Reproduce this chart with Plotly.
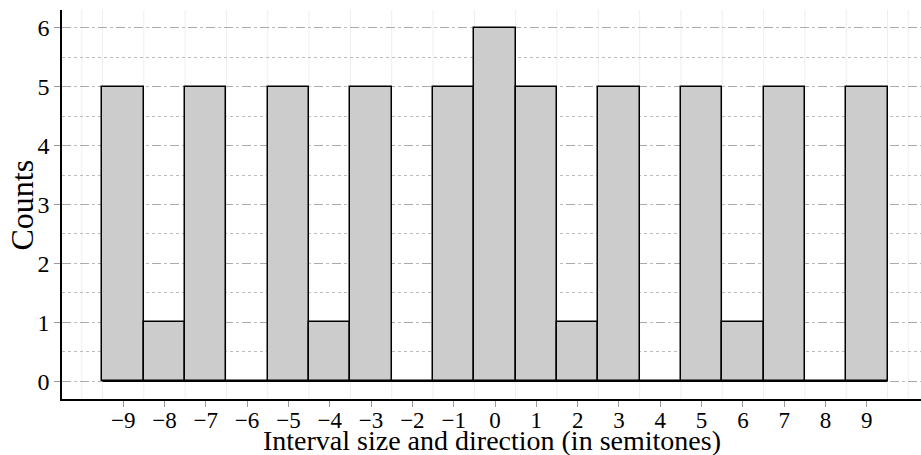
import plotly.graph_objects as go

intervals = [-9, -8, -7, -6, -5, -4, -3, -2, -1, 0, 1, 2, 3, 4, 5, 6, 7, 8, 9]
counts = [5, 1, 5, 0, 5, 1, 5, 0, 5, 6, 5, 1, 5, 0, 5, 1, 5, 0, 5]
x_tick_labels = [("\u2212" + str(-v)) if v < 0 else str(v) for v in intervals]
y_ticks = [0, 1, 2, 3, 4, 5, 6]
x_title = "Interval size and direction (in semitones)"
y_title = "Counts"

font = "Liberation Serif, Times New Roman, serif"

fig = go.Figure()
fig.add_trace(go.Bar(
    x=intervals, y=counts, width=1.0,
    marker=dict(color="#cccccc", line=dict(color="black", width=1.5)),
    showlegend=False,
))
# baseline of the histogram (covers zero-height bins)
fig.add_trace(go.Scatter(
    x=[min(intervals) - 0.5, max(intervals) + 0.5], y=[0, 0],
    mode="lines", line=dict(color="black", width=1.5), showlegend=False,
    hoverinfo="skip",
))

# faint vertical grid at bin edges (derived from the categories)
half_edges = [v - 0.5 for v in intervals] + [max(intervals) + 0.5,
                                             min(intervals) - 1, max(intervals) + 1]
for e in half_edges:
    fig.add_vline(x=e, line=dict(color="#eeeeee", width=1), layer="below")

fig.update_layout(
    width=921, height=455,
    margin=dict(l=62, r=0, t=10, b=56),
    plot_bgcolor="white", paper_bgcolor="white",
    font=dict(family=font, size=24, color="black"),
    bargap=0,
    xaxis=dict(
        range=[-10.48, 10.31],
        tickvals=intervals, ticktext=x_tick_labels,
        showgrid=False, zeroline=False,
        showline=True, linecolor="black", linewidth=1.5,
        ticks="",
        tickfont=dict(family=font, size=23, color="black"),
        minor=dict(tickvals=intervals, ticks="outside", ticklen=6,
                   tickcolor="#999999", tickwidth=1, showgrid=False),
    ),
    yaxis=dict(
        range=[-0.3, 6.3],
        tickvals=y_ticks,
        showgrid=True, gridcolor="#aaaaaa", griddash="dash", gridwidth=1,
        zeroline=False,
        showline=True, linecolor="black", linewidth=1.5,
        ticks="outside", ticklen=6, tickcolor="#999999", tickwidth=1,
        tickfont=dict(family=font, size=24, color="black"),
        minor=dict(dtick=0.5, tick0=0.5, showgrid=True, gridcolor="#bbbbbb",
                   griddash="3px,3px", gridwidth=1, ticks=""),
    ),
    annotations=[
        dict(text=x_title, xref="paper", yref="paper", x=0.5006, y=-0.106,
             xanchor="center", yanchor="middle", showarrow=False,
             borderpad=0, font=dict(family=font, size=28, color="black")),
        dict(text=y_title, xref="paper", yref="paper", x=-0.0466, y=0.5,
             xanchor="center", yanchor="middle", showarrow=False,
             textangle=-90, font=dict(family=font, size=32, color="black")),
    ],
)

fig.write_html("out.html")
